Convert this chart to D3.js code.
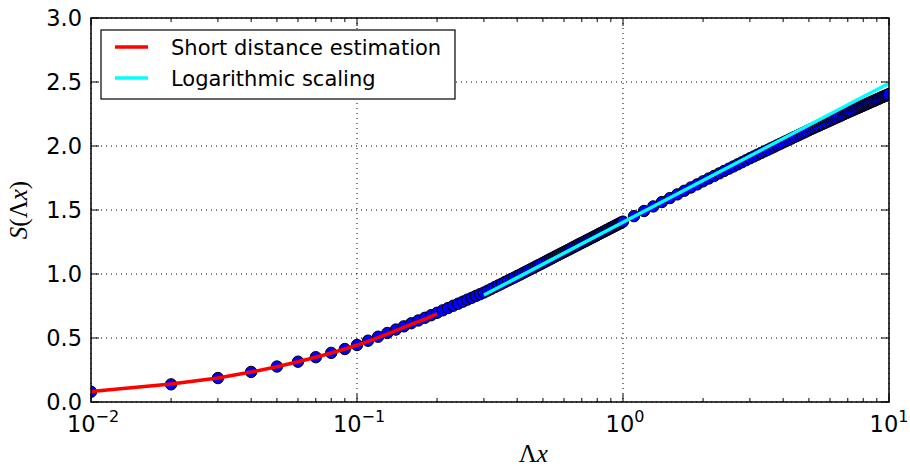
<!DOCTYPE html>
<html lang="en">
<head>
<meta charset="UTF-8" />
<script src="https://cdn.jsdelivr.net/npm/d3@7"></script>
<title>S(Lambda x)</title>
<style>
  body { margin: 0; background: #fff; }
</style>
</head>
<body>
<svg id="chart" width="910" height="466"></svg>
<script>
// sampled points (x = Lambda x)
var xPoints = [
  0.01,0.02,0.03,0.04,0.05,0.06,0.07,0.08,0.09,0.10,
  0.11,0.12,0.13,0.14,0.15,0.16,0.17,0.18,0.19,0.20,
  0.21,0.22,0.23,0.24,0.25,0.26,0.27,0.28,0.29,0.30,
  0.31,0.32,0.33,0.34,0.35,0.36,0.37,0.38,0.39,0.40,
  0.41,0.42,0.43,0.44,0.45,0.46,0.47,0.48,0.49,0.50,
  0.51,0.52,0.53,0.54,0.55,0.56,0.57,0.58,0.59,0.60,
  0.61,0.62,0.63,0.64,0.65,0.66,0.67,0.68,0.69,0.70,
  0.71,0.72,0.73,0.74,0.75,0.76,0.77,0.78,0.79,0.80,
  0.81,0.82,0.83,0.84,0.85,0.86,0.87,0.88,0.89,0.90,
  0.91,0.92,0.93,0.94,0.95,0.96,0.97,0.98,0.99,1.00,
  1.1,1.2,1.3,1.4,1.5,1.6,1.7,1.8,1.9,2.0,
  2.1,2.2,2.3,2.4,2.5,2.6,2.7,2.8,2.9,3.0,
  3.1,3.2,3.3,3.4,3.5,3.6,3.7,3.8,3.9,4.0,
  4.1,4.2,4.3,4.4,4.5,4.6,4.7,4.8,4.9,5.0,
  5.1,5.2,5.3,5.4,5.5,5.6,5.7,5.8,5.9,6.0,
  6.1,6.2,6.3,6.4,6.5,6.6,6.7,6.8,6.9,7.0,
  7.1,7.2,7.3,7.4,7.5,7.6,7.7,7.8,7.9,8.0,
  8.1,8.2,8.3,8.4,8.5,8.6,8.7,8.8,8.9,9.0,
  9.1,9.2,9.3,9.4,9.5,9.6,9.7,9.8,9.9,10
];
var sPoints = [
  0.080,0.138,0.187,0.235,0.277,0.315,0.350,0.384,0.414,0.445,
  0.479,0.510,0.539,0.566,0.591,0.615,0.637,0.658,0.678,0.697,
  0.716,0.734,0.752,0.768,0.784,0.800,0.814,0.829,0.842,0.855,
  0.870,0.884,0.898,0.911,0.924,0.937,0.949,0.961,0.972,0.984,
  0.995,1.006,1.017,1.028,1.038,1.048,1.058,1.068,1.077,1.087,
  1.096,1.105,1.114,1.123,1.131,1.140,1.148,1.156,1.164,1.172,
  1.179,1.187,1.194,1.202,1.209,1.216,1.223,1.230,1.237,1.243,
  1.250,1.256,1.262,1.269,1.275,1.281,1.287,1.293,1.299,1.305,
  1.311,1.317,1.322,1.328,1.333,1.339,1.344,1.349,1.355,1.360,
  1.365,1.370,1.375,1.380,1.385,1.390,1.395,1.399,1.404,1.409,
  1.452,1.492,1.528,1.562,1.593,1.622,1.650,1.676,1.700,1.724,
  1.746,1.766,1.786,1.805,1.823,1.840,1.857,1.873,1.889,1.904,
  1.918,1.932,1.945,1.958,1.970,1.982,1.994,2.006,2.017,2.028,
  2.038,2.049,2.059,2.069,2.078,2.088,2.097,2.106,2.115,2.124,
  2.132,2.140,2.148,2.156,2.163,2.171,2.178,2.185,2.192,2.199,
  2.206,2.213,2.219,2.226,2.232,2.238,2.245,2.251,2.257,2.263,
  2.269,2.274,2.280,2.285,2.291,2.296,2.301,2.306,2.311,2.316,
  2.321,2.326,2.331,2.336,2.341,2.345,2.350,2.354,2.359,2.363,
  2.368,2.372,2.377,2.381,2.385,2.389,2.393,2.397,2.401,2.406
];

// short distance estimation (red)
var xShort = [0.01,0.02,0.03,0.04,0.05,0.06,0.07,0.08,0.09,0.10,0.12,0.14,0.16,0.18,0.20];
var sShort = [0.082,0.140,0.188,0.234,0.276,0.314,0.350,0.383,0.414,0.443,0.503,0.557,0.606,0.648,0.688];

// logarithmic scaling (cyan)
var xLogFit = [0.3, 1, 10];
var sLogFit = [0.836, 1.404, 2.49];

var yTicks = [0, 0.5, 1.0, 1.5, 2.0, 2.5, 3.0];
var xMajor = [0.01, 0.1, 1, 10];
var xExponents = ["\u22122", "\u22121", "0", "1"];
var legendLabels = ["Short distance estimation", "Logarithmic scaling"];
var legendColors = ["#ff0000", "#00ffff"];

var svg = d3.select("#chart"),
  width = +svg.attr("width"),
  height = +svg.attr("height");
var margin = { top: 18, right: 21, bottom: 64, left: 91 };
var w = width - margin.left - margin.right,
  h = height - margin.top - margin.bottom;

var x = d3.scaleLog().domain([0.01, 10]).range([0, w]);
var y = d3.scaleLinear().domain([0, 3]).range([h, 0]);

var g = svg.append("g").attr("transform", "translate(" + margin.left + "," + margin.top + ")");

g.append("clipPath").attr("id", "clip")
  .append("rect").attr("width", w).attr("height", h);

// grid
var grid = g.append("g")
  .attr("stroke", "#000")
  .attr("stroke-width", 1)
  .attr("stroke-dasharray", "1,4");
grid.selectAll(".gx").data(xMajor).enter().append("line")
  .attr("x1", d => x(d)).attr("x2", d => x(d))
  .attr("y1", 0).attr("y2", h);
grid.selectAll(".gy").data(yTicks).enter().append("line")
  .attr("x1", 0).attr("x2", w)
  .attr("y1", d => y(d)).attr("y2", d => y(d));

// points
var pts = xPoints.map((d, i) => [d, sPoints[i]]);
var plot = g.append("g").attr("clip-path", "url(#clip)");
plot.selectAll("circle").data(pts).enter().append("circle")
  .attr("cx", d => x(d[0]))
  .attr("cy", d => y(d[1]))
  .attr("r", 5.7)
  .attr("fill", "#0000ff")
  .attr("stroke", "#000")
  .attr("stroke-width", 1);

var line = d3.line().x(d => x(d[0])).y(d => y(d[1]));
plot.append("path")
  .datum(xShort.map((d, i) => [d, sShort[i]]))
  .attr("d", line)
  .attr("fill", "none")
  .attr("stroke", legendColors[0])
  .attr("stroke-width", 3.5);
plot.append("path")
  .datum(xLogFit.map((d, i) => [d, sLogFit[i]]))
  .attr("d", line)
  .attr("fill", "none")
  .attr("stroke", legendColors[1])
  .attr("stroke-width", 3.5);

// ticks (inward, all four sides)
var minor = x.ticks().filter(d => xMajor.indexOf(d) < 0 && d > 0.01 && d < 10);
var ticks = g.append("g").attr("stroke", "#000").attr("stroke-width", 1);
function xTick(list, len) {
  list.forEach(function (d) {
    ticks.append("line").attr("x1", x(d)).attr("x2", x(d)).attr("y1", h).attr("y2", h - len);
    ticks.append("line").attr("x1", x(d)).attr("x2", x(d)).attr("y1", 0).attr("y2", len);
  });
}
xTick(minor, 4);
xTick(xMajor, 8);
yTicks.forEach(function (d) {
  ticks.append("line").attr("x1", 0).attr("x2", 8).attr("y1", y(d)).attr("y2", y(d));
  ticks.append("line").attr("x1", w).attr("x2", w - 8).attr("y1", y(d)).attr("y2", y(d));
});

// frame
g.append("rect")
  .attr("width", w).attr("height", h)
  .attr("fill", "none").attr("stroke", "#000").attr("stroke-width", 1.5);

// y tick labels
g.selectAll(".ylab").data(yTicks).enter().append("text")
  .attr("x", -9)
  .attr("y", d => y(d))
  .attr("dy", "0.36em")
  .attr("text-anchor", "end")
  .style("font-family", "DejaVu Sans")
  .style("font-size", "22.5px")
  .text(d => d.toFixed(1));

// x tick labels 10^n
var xl = g.selectAll(".xlab").data(xMajor).enter().append("text")
  .attr("x", (d, i) => x(d) + (i === 3 ? 0 : 2))
  .attr("y", h + 30)
  .attr("text-anchor", "middle")
  .style("font-family", "DejaVu Sans")
  .style("font-size", "22.5px");
xl.append("tspan").text("10");
xl.append("tspan")
  .attr("dy", -10)
  .style("font-size", "16px")
  .text((d, i) => xExponents[i]);

// axis labels
svg.append("text")
  .attr("x", margin.left + x(0.46))
  .attr("y", 462)
  .attr("text-anchor", "middle")
  .style("font-family", "Liberation Serif")
  .style("font-size", "25px")
  .html("\u039b<tspan font-style='italic'>x</tspan>");

svg.append("text")
  .attr("transform", "translate(27," + (margin.top + h / 2) + ") rotate(-90)")
  .attr("text-anchor", "middle")
  .style("font-family", "Liberation Serif")
  .style("font-size", "25px")
  .html("<tspan font-style='italic'>S</tspan>(\u039b<tspan font-style='italic'>x</tspan>)");

// legend
var leg = g.append("g").attr("transform", "translate(10,12)");
leg.append("rect")
  .attr("width", 354).attr("height", 69)
  .attr("fill", "#fff").attr("stroke", "#000").attr("stroke-width", 1.2);
legendLabels.forEach(function (lab, i) {
  var yy = 17 + i * 31;
  leg.append("line")
    .attr("x1", 14).attr("x2", 47)
    .attr("y1", yy).attr("y2", yy)
    .attr("stroke", legendColors[i]).attr("stroke-width", 3.5);
  leg.append("text")
    .attr("x", 70).attr("y", yy)
    .attr("dy", "0.36em")
    .style("font-family", "DejaVu Sans")
    .style("font-size", "21px")
    .text(lab);
});
</script>
</body>
</html>
